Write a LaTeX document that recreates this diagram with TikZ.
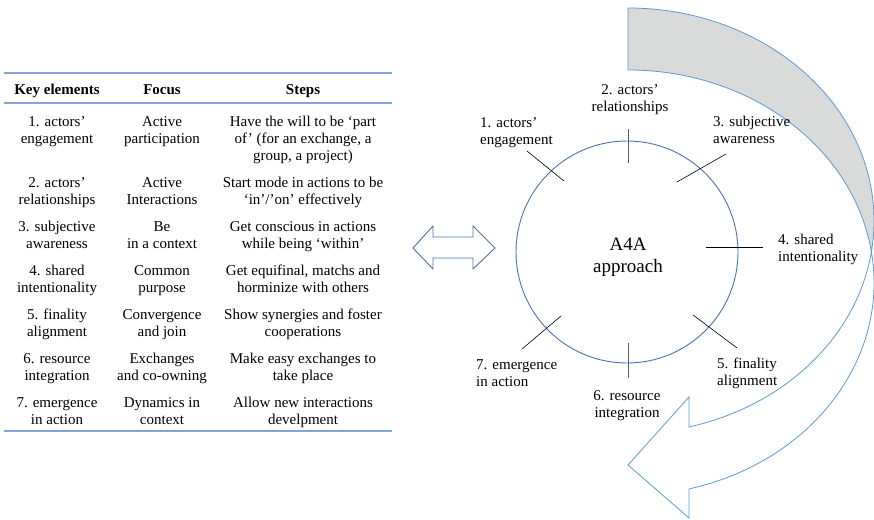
\documentclass[tikz,border=0pt]{standalone}
\usepackage{fontspec}
\setmainfont{Liberation Serif}
\definecolor{rulecol}{HTML}{7EA6D8}
\definecolor{circblue}{HTML}{4A72B0}
\definecolor{dblblue}{HTML}{4F71A6}
\definecolor{bandblue}{HTML}{5B9BD5}
\definecolor{bandgray}{HTML}{D9DADA}
\begin{document}
\begin{tikzpicture}[x=1pt, y=-1pt,
  cell/.style={align=center, inner sep=0pt, anchor=north, yshift=-3pt, font=\fontsize{15}{17}\selectfont, execute at begin node=\strut},
  lbl/.style={cell, align=left, anchor=north west},
  tick/.style={black, line width=0.6pt},
  vtick/.style={black!65, line width=1pt}]
  \useasboundingbox (0,0) rectangle (874,519);

  % Curved band arrow (back part shaded)
  \fill[bandgray] (628,8) arc[start angle=-90, end angle=8.43, x radius=246, y radius=212.8]
    arc[start angle=-8.32, end angle=-90, x radius=246, y radius=212.8] -- cycle;
  \draw[bandblue, line width=0.8pt, line join=miter] (628,70) -- (628,8)
    arc[start angle=-90, end angle=75.64, x radius=246, y radius=212.8]
    -- (689,397) -- (628,465) -- (689,518) -- (689,488.9)
    arc[start angle=75.64, end angle=-90, x radius=246, y radius=212.8] -- cycle;

  % Approach circle and its ticks
  \node (hub) [circle, draw=circblue, line width=0.9pt, minimum size=222pt, inner sep=0pt] at (627,252) {};
  \node (core) [align=center, inner sep=0pt, font=\fontsize{19}{22}\selectfont] at (628,257) {A4A\\approach};
  \draw[tick] (527,151) -- (564,181);
  \draw[vtick] (628,129) -- (628,163);
  \draw[tick] (726,154) -- (677,182);
  \draw[tick] (706,247) -- (763,247);
  \draw[tick] (693,315) -- (737,348);
  \draw[vtick] (628,343) -- (628,378);
  \draw[tick] (561,316) -- (522,349);

  \node (el1) [lbl] at (480,114) {1. actors’\\engagement};
  \node (el2) [cell] at (630,81) {2. actors’\\relationships};
  \node (el3) [lbl] at (713,113) {3. subjective\\awareness};
  \node (el4) [lbl] at (778,231) {4. shared\\intentionality};
  \node (el5) [lbl] at (717,355) {5. finality\\alignment};
  \node (el6) [cell] at (627,387) {6. resource\\integration};
  \node (el7) [lbl] at (476,356) {7. emergence\\in action};

  % Two-way block arrow
  \draw[dblblue, line width=0.9pt, line join=miter] (413,248) -- (433,226) -- (433,237) -- (473,237)
    -- (473,226) -- (495,248) -- (473,269) -- (473,258) -- (433,258) -- (433,269) -- cycle;

  % Table
  \draw[rulecol, line width=1.2pt] (4,73) -- (392,73);
  \draw[rulecol, line width=1.2pt] (4,103) -- (392,103);
  \draw[rulecol, line width=1.2pt] (4,431) -- (392,431);

  \node (khead) [cell] at (57,79) {\textbf{Key elements}};
  \node (fhead) [cell] at (162,79) {\textbf{Focus}};
  \node (shead) [cell] at (303,79) {\textbf{Steps}};

  \node (key1) [cell] at (57,113) {1. actors’\\engagement};
  \node (focus1) [cell] at (162,113) {Active\\participation};
  \node (steps1) [cell] at (303,113) {Have the will to be ‘part\\of’ (for an exchange, a\\group, a project)};

  \node (key2) [cell] at (57,174) {2. actors’\\relationships};
  \node (focus2) [cell] at (162,174) {Active\\Interactions};
  \node (steps2) [cell] at (303,174) {Start mode in actions to be\\‘in’/’on’ effectively};

  \node (key3) [cell] at (57,218) {3. subjective\\awareness};
  \node (focus3) [cell] at (162,218) {Be\\in a context};
  \node (steps3) [cell] at (303,218) {Get conscious in actions\\while being ‘within’};

  \node (key4) [cell] at (57,262) {4. shared\\intentionality};
  \node (focus4) [cell] at (162,262) {Common\\purpose};
  \node (steps4) [cell] at (303,262) {Get equifinal, matchs and\\horminize with others};

  \node (key5) [cell] at (57,306) {5. finality\\alignment};
  \node (focus5) [cell] at (162,306) {Convergence\\and join};
  \node (steps5) [cell] at (303,306) {Show synergies and foster\\cooperations};

  \node (key6) [cell] at (57,350) {6. resource\\integration};
  \node (focus6) [cell] at (162,350) {Exchanges\\and co-owning};
  \node (steps6) [cell] at (303,350) {Make easy exchanges to\\take place};

  \node (key7) [cell] at (57,394) {7. emergence\\in action};
  \node (focus7) [cell] at (162,394) {Dynamics in\\context};
  \node (steps7) [cell] at (303,394) {Allow new interactions\\develpment};
\end{tikzpicture}
\end{document}
